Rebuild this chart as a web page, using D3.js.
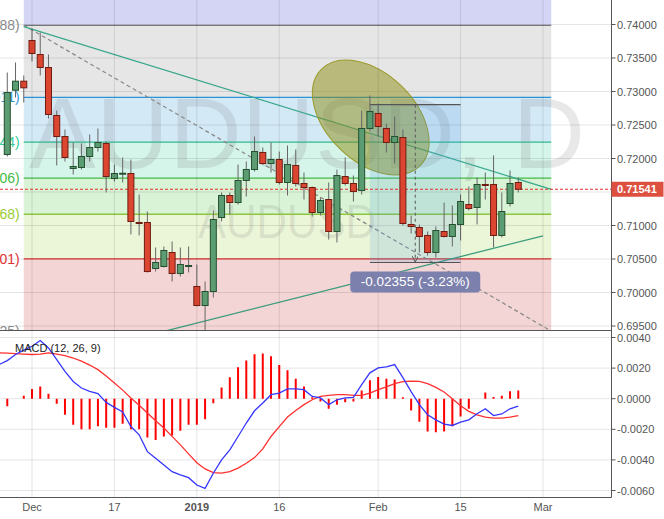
<!DOCTYPE html>
<html><head><meta charset="utf-8">
<script src="https://cdn.jsdelivr.net/npm/d3@7"></script>
<style>body{margin:0;background:#fff;} svg{display:block;font-family:"Liberation Sans",Arial,sans-serif;}</style>
</head><body><svg id="c" width="664" height="519"></svg>
<script>
// ---------- DATA ----------
const dates = ["2018-11-27","2018-11-28","2018-11-29","2018-11-30",
"2018-12-03","2018-12-04","2018-12-05","2018-12-06","2018-12-07",
"2018-12-10","2018-12-11","2018-12-12","2018-12-13","2018-12-14",
"2018-12-17","2018-12-18","2018-12-19","2018-12-20","2018-12-21",
"2018-12-24","2018-12-26","2018-12-27","2018-12-28","2018-12-31",
"2019-01-02","2019-01-03","2019-01-04",
"2019-01-07","2019-01-08","2019-01-09","2019-01-10","2019-01-11",
"2019-01-14","2019-01-15","2019-01-16","2019-01-17","2019-01-18",
"2019-01-21","2019-01-22","2019-01-23","2019-01-24","2019-01-25",
"2019-01-28","2019-01-29","2019-01-30","2019-01-31","2019-02-01",
"2019-02-04","2019-02-05","2019-02-06","2019-02-07","2019-02-08",
"2019-02-11","2019-02-12","2019-02-13","2019-02-14","2019-02-15",
"2019-02-18","2019-02-19","2019-02-20","2019-02-21","2019-02-22",
"2019-02-25","2019-02-26","2019-02-27","2019-02-28","2019-03-01"];

const open = [null,0.72060,0.73019,0.73154,0.73761,0.73552,0.73358,0.72642,0.72328,0.71851,0.71866,0.72030,0.72164,0.72224,0.71701,0.71776,0.71776,0.71045,0.71045,0.70358,0.70388,0.70597,0.70284,0.70396,0.70090,0.69806,0.70015,0.71119,0.71448,0.71343,0.71672,0.71836,0.72090,0.71925,0.71985,0.71642,0.71896,0.71627,0.71567,0.71194,0.71388,0.70910,0.71731,0.71627,0.71522,0.72448,0.72672,0.72448,0.72239,0.72313,0.71015,0.70970,0.70851,0.70597,0.70910,0.70836,0.71015,0.71313,0.71269,0.71612,0.71612,0.70851,0.71328,0.71642];
const high = [null,0.73284,0.73433,0.73239,0.73940,0.73881,0.73552,0.72716,0.72433,0.72239,0.72224,0.72358,0.72448,0.72254,0.71910,0.72015,0.71985,0.71463,0.71209,0.70672,0.70687,0.70761,0.70672,0.70687,0.70418,0.70164,0.71224,0.71493,0.71493,0.71910,0.71955,0.72328,0.72164,0.72239,0.72104,0.72194,0.72134,0.71791,0.71582,0.71418,0.71642,0.71836,0.72015,0.71746,0.72716,0.72940,0.72821,0.72522,0.72627,0.72433,0.71149,0.71015,0.70910,0.70985,0.71343,0.71299,0.71463,0.71582,0.71716,0.71791,0.72045,0.71493,0.71821,0.71716];
const low = [null,0.72030,0.72910,0.72836,0.73448,0.73239,0.72597,0.71896,0.71955,0.71761,0.71836,0.71955,0.72104,0.71493,0.71657,0.71642,0.70866,0.70851,0.70299,0.70313,0.70373,0.70164,0.70239,0.70299,0.69791,0.67400,0.69925,0.71060,0.71164,0.71313,0.71433,0.71806,0.71910,0.71791,0.71612,0.71448,0.71582,0.71388,0.71134,0.71149,0.70791,0.70746,0.71597,0.71358,0.71463,0.72403,0.72328,0.72090,0.71925,0.71000,0.70881,0.70597,0.70552,0.70522,0.70821,0.70687,0.70776,0.71224,0.71015,0.71388,0.70672,0.70821,0.71284,0.71493];
const close = [null,0.72985,0.73154,0.73055,0.73567,0.73358,0.72657,0.72328,0.72015,0.71881,0.72030,0.72164,0.72239,0.71731,0.71776,0.71780,0.71060,0.71030,0.70313,0.70448,0.70627,0.70284,0.70418,0.70403,0.69806,0.70015,0.71090,0.71448,0.71343,0.71672,0.71836,0.72104,0.71925,0.71985,0.71642,0.71910,0.71627,0.71567,0.71194,0.71373,0.70910,0.71746,0.71627,0.71507,0.72448,0.72701,0.72478,0.72239,0.72328,0.71030,0.70985,0.70836,0.70597,0.70925,0.70836,0.71015,0.71358,0.71254,0.71612,0.71604,0.70851,0.71209,0.71627,0.71541];

const macd = [0.00223,0.00249,0.00289,0.00317,0.00343,0.00380,0.00332,0.00256,0.00179,0.00113,0.00070,0.00048,0.00033,-0.00024,-0.00057,-0.00087,-0.00182,-0.00236,-0.00346,-0.00389,-0.00433,-0.00477,-0.00498,-0.00516,-0.00564,-0.00586,-0.00487,-0.00400,-0.00334,-0.00247,-0.00159,-0.00079,-0.00028,0.00026,0.00037,0.00064,0.00064,0.00059,0.00015,0.00005,-0.00039,-0.00007,0.00005,0.00009,0.00092,0.00169,0.00201,0.00208,0.00223,0.00138,0.00046,-0.00039,-0.00105,-0.00138,-0.00166,-0.00175,-0.00153,-0.00138,-0.00098,-0.00066,-0.00110,-0.00100,-0.00066,-0.00048];
const signal = [0.00300,0.00298,0.00295,0.00292,0.00289,0.00292,0.00300,0.00292,0.00282,0.00266,0.00245,0.00220,0.00190,0.00148,0.00103,0.00056,0.00005,-0.00043,-0.00094,-0.00144,-0.00192,-0.00246,-0.00302,-0.00361,-0.00418,-0.00459,-0.00483,-0.00487,-0.00477,-0.00454,-0.00422,-0.00385,-0.00328,-0.00247,-0.00182,-0.00120,-0.00077,-0.00039,-0.00007,0.00015,0.00022,0.00026,0.00026,0.00022,0.00022,0.00037,0.00059,0.00077,0.00098,0.00111,0.00115,0.00113,0.00098,0.00074,0.00044,0.00000,-0.00046,-0.00083,-0.00105,-0.00120,-0.00127,-0.00127,-0.00120,-0.00110];
const hist = [null,-0.0005,0,0.0002,0.00064,0.0008,0.00033,-0.00033,-0.00105,-0.0017,-0.002,-0.002,-0.0018,-0.0019,-0.0019,-0.00164,-0.002,-0.002,-0.00254,-0.0027,-0.00247,-0.0024,-0.0021,-0.0017,-0.0017,-0.00135,-0.0003,0.00074,0.0014,0.00205,0.0025,0.0029,0.00295,0.00277,0.0022,0.00186,0.0013,0.0008,0.0001,-0.00018,-0.00066,-0.0004,-0.00024,-0.00018,0.00053,0.0012,0.00142,0.0013,0.00125,0.0001,-0.00077,-0.0015,-0.00214,-0.0022,-0.00214,-0.0018,-0.00116,-0.00066,0,0.00041,0.00011,0.0002,0.00048,0.00054];

const priceTicks = [0.74,0.735,0.73,0.725,0.72,0.715,0.71,0.705,0.70,0.695];
const macdTicks = [0.004,0.002,0,-0.002,-0.004,-0.006];
const tickDates = ["2018-12-03","2018-12-17","2019-01-02","2019-01-16","2019-02-01","2019-02-15","2019-03-01"];
const tickLabels = ["Dec","17","2019","16","Feb","15","Mar"];

const fibLevels = [0.75065,0.73988,0.72911,0.72244,0.71706,0.71168,0.70501,0.69425];
const fibLabels = ["-0.236 (0.75065)","0 (0.73988)","0.236 (0.72911)","0.382 (0.72244)","0.5 (0.71706)","0.618 (0.71168)","0.764 (0.70501)","1 (0.69425)"];
const fibLineColors = ["#7b7bd0","#777777","#2a93d5","#2db88f","#45b845","#8cc63f","#d32f2f","#888888"];
const fibLabelColors = ["#7b7bd0","#8a8a8a","#3399dd","#33cc99","#44bb44","#99cc33","#dd3333","#8a8a8a"];
const fibFills = ["#d4d4f5","#e6e6e6","#d4e9f6","#d5f4ea","#d8f3d5","#ebf5d8","#f4d5d5"];
const lastPrice = 0.71541;
const measure = {i0:45, i1:56, top:0.72803, bottom:0.70448, label:"-0.02355 (-3.23%)"};

// ---------- LAYOUT ----------
const plotR = 611.5, mainBot = 330.5, macdBot = 497.5;
const svg = d3.select("#c");
const x = d3.scaleLinear().domain([4,66]).range([32,543]);
const y = d3.scaleLinear().domain([0.695,0.74]).range([326,24.5]);
const ym = d3.scaleLinear().domain([-0.006,0.004]).range([490.5,337.5]);
const di = d => dates.indexOf(d);
const fibI0 = 3, fibI1 = 67;

const defs = svg.append("defs");
defs.append("clipPath").attr("id","cm").append("rect").attr("x",0).attr("y",0).attr("width",plotR).attr("height",mainBot);
defs.append("clipPath").attr("id","cd").append("rect").attr("x",0).attr("y",mainBot).attr("width",plotR).attr("height",macdBot-mainBot);
defs.append("marker").attr("id","arr").attr("viewBox","0 0 10 10").attr("refX",9).attr("refY",5)
  .attr("markerWidth",6).attr("markerHeight",6).attr("orient","auto")
  .append("path").attr("d","M0,0 L10,5 L0,10").attr("fill","none").attr("stroke","#555").attr("stroke-width",1.5);

const gm = svg.append("g").attr("clip-path","url(#cm)");
const gd = svg.append("g").attr("clip-path","url(#cd)");

// fib bands
fibFills.forEach((c,k)=>{
  const y0 = k===0 ? -50 : y(fibLevels[k]);
  const y1 = y(fibLevels[k+1]);
  gm.append("rect").attr("x",x(fibI0)).attr("y",Math.min(y0,y1)).attr("width",x(fibI1)-x(fibI0))
    .attr("height",Math.abs(y1-y0)).attr("fill",c);
});

// grid
priceTicks.forEach(v=>gm.append("line").attr("x1",0).attr("x2",plotR).attr("y1",y(v)).attr("y2",y(v)).attr("stroke","rgba(0,0,0,0.1)"));
macdTicks.forEach(v=>gd.append("line").attr("x1",0).attr("x2",plotR).attr("y1",ym(v)).attr("y2",ym(v)).attr("stroke","rgba(0,0,0,0.1)"));
tickDates.forEach(d=>{
  svg.append("line").attr("x1",x(di(d))).attr("x2",x(di(d))).attr("y1",0).attr("y2",macdBot).attr("stroke","rgba(0,0,0,0.1)");
});

// watermark
gm.append("text").attr("x",29).attr("y",168).attr("font-size",100).attr("fill","rgba(90,90,90,0.14)")
  .attr("textLength",556).attr("lengthAdjust","spacing").text("AUDUSD, D");
gm.append("text").attr("x",198).attr("y",238).attr("font-size",48).attr("fill","rgba(90,90,90,0.13)")
  .attr("textLength",178).attr("lengthAdjust","spacingAndGlyphs").text("AUDUSD");

// fib lines
fibLevels.forEach((v,k)=>{
  if(k===0) return;
  gm.append("line").attr("x1",x(fibI0)).attr("x2",x(fibI1)).attr("y1",y(v)).attr("y2",y(v))
    .attr("stroke",fibLineColors[k]).attr("stroke-width",1.3);
  gm.append("text").attr("x",x(fibI0)-4).attr("y",y(v)).attr("text-anchor","end").attr("dominant-baseline","central")
    .attr("font-size",14).attr("fill",fibLabelColors[k]).text(fibLabels[k]);
});
// fib diagonal
gm.append("line").attr("x1",x(fibI0)).attr("y1",y(fibLevels[1])).attr("x2",x(fibI1)).attr("y2",y(fibLevels[7]))
  .attr("stroke","#888").attr("stroke-width",1.2).attr("stroke-dasharray","4,3");

// trend lines
const trendUpper = [[3,0.7397],[67,0.7154]];
const trendLower = [[20,0.6942],[66,0.70846]];
const ln = d3.line().x(d=>x(d[0])).y(d=>y(d[1]));
gm.append("path").attr("d",ln(trendUpper)).attr("stroke","#3aa88c").attr("stroke-width",1.3).attr("fill","none");
gm.append("path").attr("d",ln(trendLower)).attr("stroke","#3a9c7c").attr("stroke-width",1.3).attr("fill","none");

// ellipse
gm.append("ellipse").attr("cx",0).attr("cy",0).attr("rx",69).attr("ry",44)
  .attr("transform",`translate(${x(45.1)},${y(0.72612)}) rotate(44)`)
  .attr("fill","rgba(140,140,15,0.5)").attr("stroke","#9a9a2a").attr("stroke-width",1);

// measurement
const mx0 = x(measure.i0), mx1 = x(measure.i1), my0 = y(measure.top), my1 = y(measure.bottom), mxm = x((measure.i0+measure.i1)/2);
gm.append("rect").attr("x",mx0).attr("y",my0).attr("width",mx1-mx0).attr("height",my1-my0).attr("fill","rgba(60,150,230,0.16)");
gm.append("line").attr("x1",mx0).attr("x2",mx1).attr("y1",my0).attr("y2",my0).attr("stroke","#555").attr("stroke-width",1.2);
gm.append("line").attr("x1",mx0).attr("x2",mx1).attr("y1",my1).attr("y2",my1).attr("stroke","#555").attr("stroke-width",1.2);
gm.append("line").attr("x1",mxm).attr("x2",mxm).attr("y1",my0).attr("y2",my1-1).attr("stroke","#555").attr("stroke-width",1)
  .attr("stroke-dasharray","3,3").attr("marker-end","url(#arr)");

// last price line
gm.append("line").attr("x1",0).attr("x2",plotR).attr("y1",y(lastPrice)).attr("y2",y(lastPrice))
  .attr("stroke","#e02f2f").attr("stroke-width",1).attr("stroke-dasharray","3,2");

// candles
const cand = d3.range(dates.length).filter(i=>i<open.length && open[i]!=null);
const cg = gm.append("g");
cand.forEach(i=>{
  const up = close[i] >= open[i];
  const cx = x(i);
  cg.append("line").attr("x1",cx).attr("x2",cx).attr("y1",y(high[i])).attr("y2",y(low[i])).attr("stroke","#666").attr("stroke-width",1);
  const t = y(Math.max(open[i],close[i])), b = y(Math.min(open[i],close[i]));
  cg.append("rect").attr("x",cx-3).attr("y",t).attr("width",6).attr("height",Math.max(1,b-t))
    .attr("fill",up?"#5c9c72":"#dc4530").attr("stroke",up?"#24502f":"#6e1d12").attr("stroke-width",1);
});

// measurement label
const lbW = 130, lbY = my1+9;
svg.append("rect").attr("x",mxm-lbW/2).attr("y",lbY).attr("width",lbW).attr("height",21).attr("rx",4).attr("fill","#7c80ad");
svg.append("text").attr("x",mxm).attr("y",lbY+10.5).attr("text-anchor","middle").attr("dominant-baseline","central")
  .attr("font-size",13.5).attr("fill","#fff").text(measure.label);

// MACD
for(let i=0;i<hist.length;i++){
  if(hist[i]==null || hist[i]===0) continue;
  gd.append("line").attr("x1",x(i)).attr("x2",x(i)).attr("y1",ym(0)).attr("y2",ym(hist[i])).attr("stroke","#f00").attr("stroke-width",2);
}
const lm = d3.line().x((d,i)=>x(i)).y(d=>ym(d));
gd.append("path").attr("d",lm(signal)).attr("stroke","#ff3030").attr("stroke-width",1.3).attr("fill","none");
gd.append("path").attr("d",lm(macd)).attr("stroke","#3636ff").attr("stroke-width",1.3).attr("fill","none");
svg.append("text").attr("x",15).attr("y",351.5).attr("font-size",11).attr("fill","#222").text("MACD (12, 26, 9)");

// axes frame
svg.append("line").attr("x1",0).attr("x2",plotR).attr("y1",mainBot).attr("y2",mainBot).attr("stroke","#555");
svg.append("line").attr("x1",0).attr("x2",plotR).attr("y1",macdBot).attr("y2",macdBot).attr("stroke","#555");
svg.append("line").attr("x1",plotR).attr("x2",plotR).attr("y1",0).attr("y2",macdBot).attr("stroke","#555");

priceTicks.forEach(v=>{
  svg.append("line").attr("x1",plotR).attr("x2",plotR+4).attr("y1",y(v)).attr("y2",y(v)).attr("stroke","#555");
  if (Math.abs(y(v)-y(lastPrice)) < 12) return; // hidden behind the last-price tag
  svg.append("text").attr("x",617).attr("y",y(v)).attr("dominant-baseline","central").attr("font-size",11).attr("fill","#555").text(v.toFixed(5));
});
macdTicks.forEach(v=>{
  svg.append("line").attr("x1",plotR).attr("x2",plotR+4).attr("y1",ym(v)).attr("y2",ym(v)).attr("stroke","#555");
  svg.append("text").attr("x",617).attr("y",ym(v)).attr("dominant-baseline","central").attr("font-size",11).attr("fill","#555").text(v.toFixed(4));
});
tickDates.forEach((d,k)=>{
  svg.append("text").attr("x",x(di(d))).attr("y",511).attr("text-anchor","middle").attr("font-size",11)
    .attr("fill","#555").attr("font-weight",tickLabels[k]==="2019"?"bold":"normal").text(tickLabels[k]);
});

// last price tag
svg.append("rect").attr("x",plotR).attr("y",y(lastPrice)-7.5).attr("width",52).attr("height",15).attr("fill","#dd5040");
svg.append("text").attr("x",617).attr("y",y(lastPrice)).attr("dominant-baseline","central").attr("font-size",11)
  .attr("font-weight","bold").attr("fill","#fff").text(lastPrice.toFixed(5));
</script></body></html>
